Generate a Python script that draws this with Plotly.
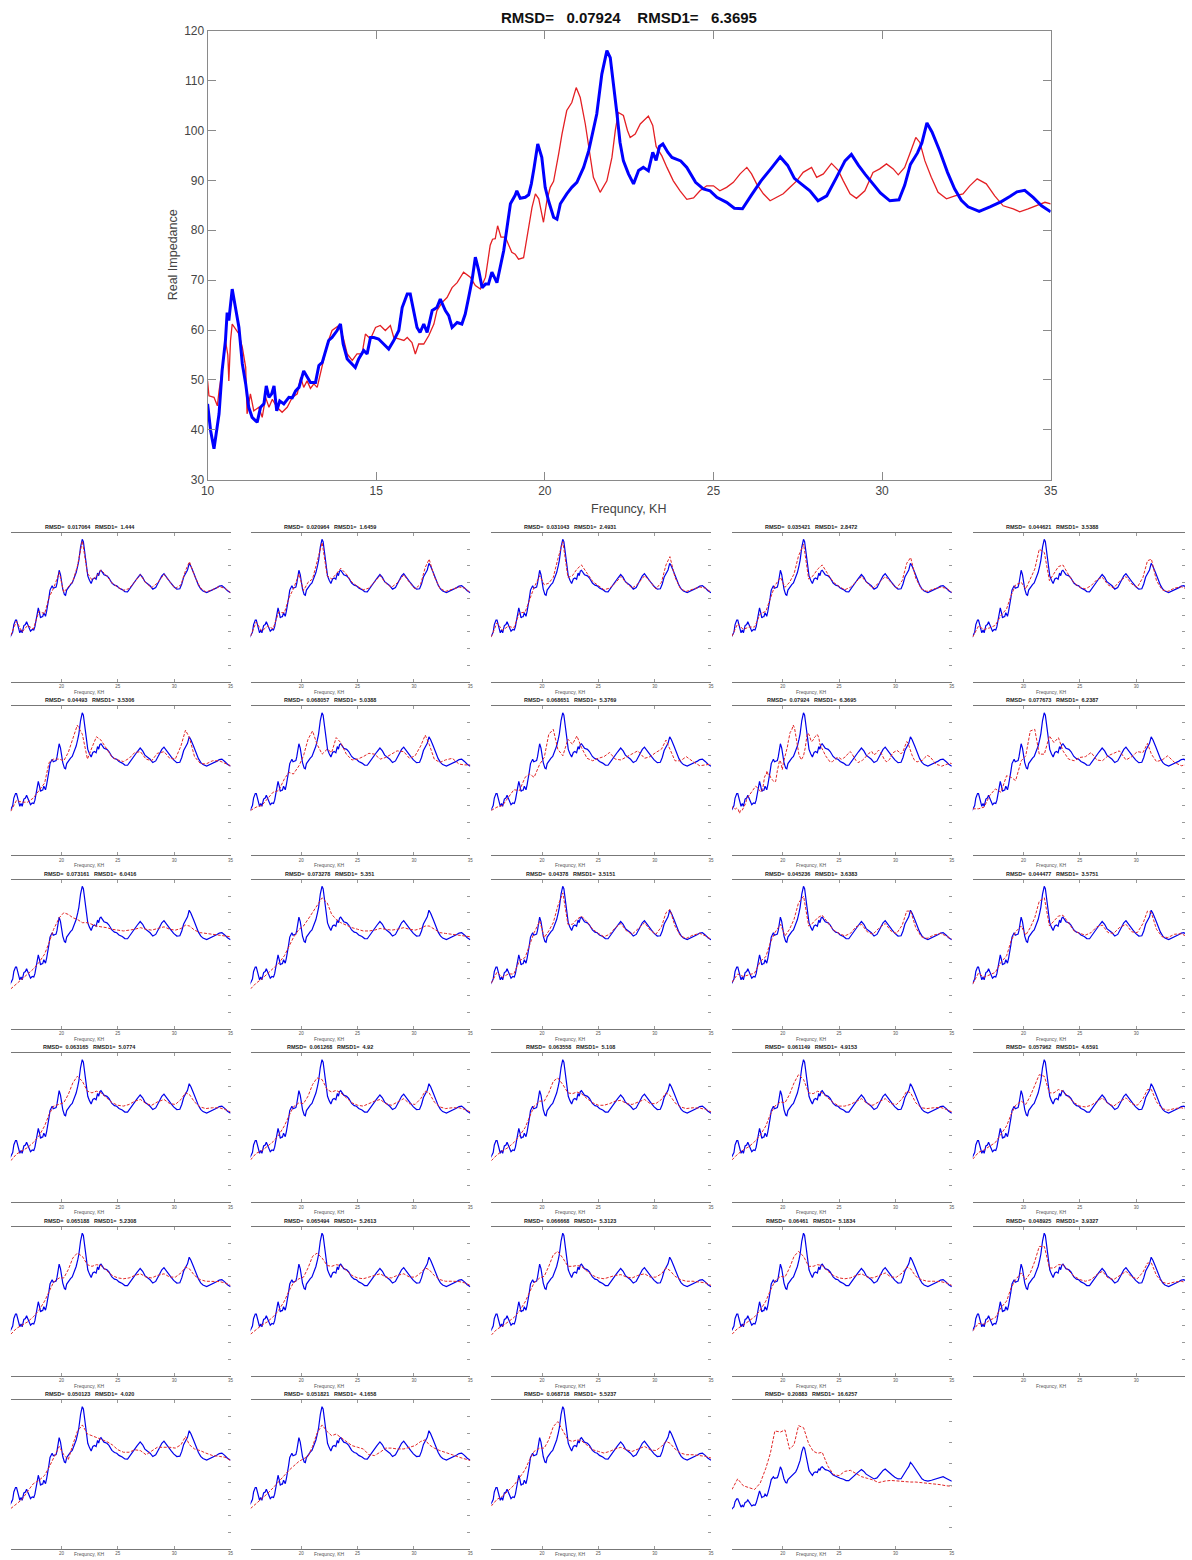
import plotly.graph_objects as go

W, H = 1192, 1560
FONT = "Liberation Sans, Arial, sans-serif"

# ---------------- main chart data (frequency in kHz, real impedance) ----------------
freq_blue = [10.00, 10.09, 10.19, 10.29, 10.34, 10.43, 10.53, 10.58, 10.63, 10.73, 10.83, 10.93, 11.03, 11.13,
             11.22, 11.32, 11.47, 11.57, 11.67, 11.74, 11.82, 11.90, 11.97, 12.05, 12.14, 12.26, 12.41, 12.51,
             12.61, 12.71, 12.85, 12.95, 13.05, 13.20, 13.30, 13.40, 13.50, 13.59, 13.69, 13.84, 13.94, 14.02,
             14.14, 14.29, 14.38, 14.48, 14.63, 14.73, 14.83, 14.93, 15.07, 15.22, 15.37, 15.52, 15.67, 15.77,
             15.92, 16.01, 16.11, 16.21, 16.30, 16.41, 16.51, 16.66, 16.80, 16.90, 17.05, 17.15, 17.25, 17.40,
             17.54, 17.64, 17.74, 17.84, 17.94, 18.04, 18.14, 18.24, 18.33, 18.43, 18.58, 18.68, 18.78, 18.88,
             18.98, 19.12, 19.17, 19.27, 19.42, 19.52, 19.60, 19.68, 19.79, 19.91, 20.01, 20.11, 20.26, 20.36,
             20.46, 20.65, 20.80, 20.95, 21.15, 21.30, 21.44, 21.54, 21.69, 21.84, 21.94, 22.04, 22.14, 22.23,
             22.33, 22.48, 22.63, 22.78, 22.92, 23.07, 23.20, 23.30, 23.40, 23.50, 23.65, 23.77, 24.03, 24.21,
             24.47, 24.70, 24.90, 25.10, 25.39, 25.62, 25.86, 26.12, 26.40, 26.70, 26.98, 27.20, 27.40, 27.62,
             27.86, 28.10, 28.36, 28.65, 28.90, 29.09, 29.30, 29.50, 29.70, 29.95, 30.23, 30.50, 30.67, 30.84,
             31.05, 31.18, 31.33, 31.48, 31.71, 31.94, 32.15, 32.35, 32.55, 32.88, 33.20, 33.55, 33.80, 34.00,
             34.23, 34.48, 34.73, 35.00]
blue_main = [45.2, 39.8, 36.2, 40.5, 43.2, 51.8, 57.9, 63.5, 61.9, 68.2, 63.9, 60.5, 53.2, 49.2,
             44.5, 42.5, 41.5, 44.5, 45.2, 48.8, 46.5, 47.2, 48.8, 43.8, 45.8, 45.2, 46.5, 46.4,
             47.8, 48.5, 51.8, 50.5, 49.5, 49.5, 52.9, 53.5, 55.9, 57.9, 58.5, 59.9, 61.2, 57.2,
             54.2, 53.2, 52.5, 54.2, 55.9, 55.2, 58.5, 58.5, 58.2, 57.2, 56.2, 57.9, 59.9, 64.5,
             67.2, 67.2, 63.9, 60.5, 59.5, 61.2, 59.5, 63.9, 64.5, 66.2, 63.9, 62.9, 60.5, 61.5,
             61.2, 63.2, 66.5, 69.9, 74.6, 71.9, 68.5, 69.2, 69.2, 71.6, 69.5, 72.6, 75.9, 80.6,
             85.3, 87.0, 87.9, 86.4, 86.6, 87.1, 89.3, 92.5, 97.3, 94.6, 88.6, 85.9, 82.6, 82.2,
             85.3, 87.3, 88.6, 89.6, 92.6, 95.9, 99.9, 103.3, 111.3, 116.0, 114.6, 109.3, 103.3, 97.6,
             93.9, 91.3, 89.3, 92.0, 92.6, 91.9, 95.6, 94.0, 96.8, 97.3, 95.6, 94.6, 93.9, 92.6,
             89.6, 88.3, 87.9, 86.6, 85.6, 84.4, 84.3, 87.0, 89.8, 92.3, 94.7, 93.0, 90.4, 89.2,
             87.9, 85.9, 86.9, 90.6, 93.9, 95.2, 93.0, 91.2, 89.6, 87.5, 85.9, 86.1, 89.0, 93.2,
             95.5, 97.5, 101.5, 99.7, 95.9, 91.6, 88.3, 86.0, 84.7, 83.8, 84.7, 85.8, 86.8, 87.7,
             88.0, 86.6, 84.9, 83.7]

freq_red = [10.00, 10.04, 10.19, 10.29, 10.34, 10.43, 10.53, 10.60, 10.63, 10.68, 10.73, 10.83, 10.93, 11.03,
            11.13, 11.17, 11.27, 11.37, 11.52, 11.62, 11.72, 11.82, 11.92, 12.06, 12.21, 12.36, 12.51, 12.66,
            12.76, 12.85, 12.95, 13.05, 13.15, 13.25, 13.40, 13.55, 13.69, 13.79, 13.89, 14.02, 14.14, 14.29,
            14.43, 14.58, 14.68, 14.83, 14.98, 15.12, 15.27, 15.42, 15.52, 15.67, 15.82, 15.92, 16.06, 16.16,
            16.26, 16.41, 16.56, 16.71, 16.80, 16.95, 17.10, 17.25, 17.40, 17.59, 17.79, 17.94, 18.09, 18.24,
            18.38, 18.45, 18.53, 18.60, 18.70, 18.83, 18.95, 19.02, 19.12, 19.22, 19.37, 19.52, 19.62, 19.72,
            19.82, 19.96, 20.06, 20.16, 20.26, 20.41, 20.51, 20.65, 20.80, 20.93, 21.05, 21.20, 21.30, 21.44,
            21.64, 21.84, 21.99, 22.09, 22.18, 22.33, 22.45, 22.53, 22.68, 22.83, 23.07, 23.20, 23.30, 23.47,
            23.62, 23.81, 24.01, 24.21, 24.41, 24.60, 24.80, 25.00, 25.19, 25.39, 25.59, 25.79, 25.99, 26.13,
            26.28, 26.48, 26.68, 26.88, 27.07, 27.27, 27.47, 27.66, 27.91, 28.06, 28.26, 28.50, 28.70, 28.85,
            29.05, 29.24, 29.49, 29.73, 29.93, 30.13, 30.33, 30.48, 30.67, 30.82, 31.00, 31.12, 31.27, 31.46,
            31.66, 31.91, 32.16, 32.40, 32.60, 32.82, 33.09, 33.34, 33.59, 33.89, 34.08, 34.33, 34.58, 34.83,
            35.00]
red_main = [49.8, 46.8, 46.5, 44.8, 47.8, 51.8, 57.9, 55.0, 49.8, 57.9, 61.2, 60.2, 59.2, 56.5,
            52.5, 43.2, 47.2, 43.8, 44.5, 42.5, 46.5, 44.5, 46.1, 44.5, 43.5, 44.5, 46.5, 47.2,
            50.5, 48.5, 49.8, 48.3, 49.2, 48.5, 53.2, 57.2, 59.9, 60.5, 60.9, 58.5, 55.2, 53.9,
            55.2, 55.2, 59.2, 58.2, 60.5, 60.9, 59.9, 60.9, 58.5, 58.2, 57.9, 58.5, 57.5, 55.2,
            57.2, 57.2, 58.9, 61.2, 63.9, 65.5, 66.5, 68.5, 69.5, 71.6, 70.6, 68.9, 68.2, 70.6,
            77.0, 78.2, 78.3, 80.9, 78.6, 78.6, 76.5, 75.6, 75.2, 74.2, 74.5, 81.0, 84.6, 87.3,
            86.3, 81.6, 85.9, 88.6, 89.8, 95.3, 99.3, 104.0, 105.6, 108.6, 106.6, 101.3, 96.6, 90.6,
            87.6, 89.9, 94.6, 100.0, 103.6, 103.0, 100.0, 98.6, 99.3, 101.3, 102.9, 101.0, 96.8, 94.9,
            92.6, 89.9, 87.9, 86.2, 86.5, 87.9, 88.9, 88.9, 87.9, 88.6, 89.6, 91.3, 92.6, 91.3,
            89.3, 87.3, 85.9, 86.6, 87.3, 88.6, 89.9, 91.6, 92.6, 90.6, 91.3, 93.4, 92.0, 89.9,
            87.3, 86.4, 87.9, 91.6, 92.3, 93.3, 92.3, 91.1, 92.6, 95.3, 98.6, 97.6, 93.9, 90.6,
            87.6, 86.3, 86.9, 87.3, 88.9, 90.3, 89.3, 86.9, 84.9, 84.3, 83.7, 84.3, 84.9, 85.6,
            85.3]

# ---------------- small panels: simulated curves on a common frequency grid ----------------
F_S = [15.5, 16.0, 16.5, 17.0, 17.5, 18.0, 18.5, 18.9, 19.3, 19.8, 20.2, 20.6, 21.0, 21.4, 21.85,
       22.3, 22.7, 23.1, 23.5, 24.0, 24.5, 25.0, 25.5, 26.0, 26.5, 27.0, 27.5, 28.0, 28.5, 29.1,
       29.6, 30.1, 30.6, 31.0, 31.35, 31.8, 32.3, 32.8, 33.4, 34.0, 34.5, 35.0]

red_p01 = [58, 66.5, 60, 64, 61.8, 72.5, 71, 81, 86.5, 96, 84, 87.5, 90.5, 99.5, 115, 95.5, 91.5, 93.5, 97.5, 94, 89.5,
           87, 85.2, 86.2, 90.5, 94.5, 89.5, 86.8, 89.5, 94.8, 90.3, 86.3, 88.5, 97, 102.5, 94, 86.8, 84.2, 85.5, 87.5, 86.3, 83.8]
red_p02 = [57.5, 66, 60.5, 63.5, 62, 72, 71.5, 80.5, 86, 95, 85, 90, 92, 103, 114, 94, 92, 95, 98.5, 95, 90,
           87.5, 85.5, 86.5, 90, 94, 89.5, 87, 89.5, 94.5, 90, 86, 89, 99, 104, 93.5, 86.5, 84.5, 85.8, 87.2, 86.5, 83.8]
red_p03 = [57, 65.5, 61, 63.5, 62.5, 71.5, 72, 80, 87, 94, 88.5, 89.5, 93, 104, 114.5, 93, 94, 98, 100.5, 95.5, 90.5,
           88, 85.5, 86.5, 89.5, 93.5, 89.5, 86.5, 89, 94, 90.5, 86, 90, 100.5, 105.5, 93, 86, 84.5, 86, 87.2, 86.5, 84]
red_p04 = [57.5, 65, 61.5, 63, 63, 71, 72.5, 80, 88, 93, 87, 90, 95, 106, 113, 92, 94, 98, 100.5, 95, 90,
           87.5, 85.5, 87, 90, 93.5, 89.5, 86.5, 89.5, 93.5, 90, 86.5, 91, 101.5, 105, 92.5, 86, 84.5, 86, 87, 86.5, 84]
red_p05 = [57, 63.5, 61.5, 62.5, 64, 70, 74, 82, 88.5, 90, 86, 92, 98, 110, 108, 91, 95, 99.5, 100.5, 94.5, 89.5,
           87, 86, 88, 91.5, 93, 88.5, 86.5, 90.5, 93.5, 89, 87, 93, 103, 104, 91, 85.5, 84.5, 86.5, 87.3, 86, 84]
red_p06 = [56.5, 63, 62, 62, 64.5, 69, 73.5, 86, 88, 88, 87, 92, 101, 108.5, 103, 88, 95, 101.5, 99.5, 94, 89,
           87.5, 86.5, 88.5, 92, 92.5, 88, 87, 91.5, 92.5, 88.5, 88, 96, 105.5, 101, 89.5, 85.5, 85, 87, 87, 85.5, 84]
red_p07 = [57, 59, 60, 64, 68, 69, 76, 80, 79, 84, 90, 100, 105, 97, 91, 94, 92, 101, 98, 91, 87.5,
           88, 89.5, 91.5, 91, 88, 89, 91, 93, 92.5, 88.5, 90, 96, 102.5, 97, 88, 86, 87.5, 88.5, 85, 84.5, 84.5]
red_p08 = [57, 59, 60, 65, 69.5, 69, 77, 79, 77, 85, 89, 103, 106, 94, 90, 100, 97, 102, 95, 88.5, 87,
           88.5, 89.5, 92, 88, 87.5, 89.5, 91.5, 93, 88.5, 89.5, 92, 94, 99.5, 94, 87, 87, 89.5, 86.5, 84, 84.5, 85]
red_p10 = [58, 58, 59, 66, 70, 68, 78, 77, 75, 87, 90, 105, 106, 91, 91, 102, 98, 101, 93, 88, 87,
           89, 89.5, 92, 87.5, 87, 90, 91.5, 93, 87.5, 89.5, 92.5, 92, 97.5, 91, 86.5, 87.5, 90, 86, 84, 84.5, 85.5]
red_p11 = [54, 57, 60, 63, 66, 70, 75, 82, 90, 97, 100, 99, 97, 96, 94, 94, 93, 92, 91.5, 91, 90,
           89.5, 89, 89.5, 90, 91, 90, 89.5, 90.5, 91.5, 90, 89.5, 90.5, 92.5, 92, 89.5, 88, 87.5, 87, 86.5, 86, 85.5]
red_p12 = [54, 57.5, 60, 63, 66, 69.5, 74, 80, 85, 90, 92, 96, 100, 104, 109, 106, 99, 96, 94, 92.5, 91,
           90, 89, 89, 89.5, 90.5, 90, 89.5, 90, 91, 90, 89.5, 90.5, 92, 92, 90, 88, 87.5, 87, 86.5, 86, 85.5]
red_p13 = [57.5, 64, 61, 63, 63, 71, 73, 81, 88, 95, 85, 89, 94, 104, 112, 93, 93, 96, 98, 94.5, 90,
           87.5, 85.5, 87, 91, 93.5, 89, 87, 90, 94, 89.5, 87, 91.5, 100, 102, 92, 86, 84.5, 86.5, 87.5, 86, 84]
red_p14 = [58, 63, 61.5, 62.5, 63.5, 70.5, 73.5, 82, 88, 93, 86, 90, 96, 106, 110, 92, 94, 97, 98.5, 94, 89.5,
           87.5, 86, 87.5, 91.5, 93, 88.5, 87, 90.5, 93.5, 89, 87.5, 92.5, 101, 101, 91, 85.5, 84.5, 86.5, 87.5, 86, 84]
red_p15 = [57, 63.5, 61, 62.5, 64, 70, 74, 83, 88.5, 92, 86.5, 91, 97, 107, 109, 92, 95, 98, 98.5, 93.5, 89,
           87.5, 86.5, 88, 91.5, 92.5, 88, 87.5, 91, 93, 88.5, 88, 93.5, 101, 100, 90, 85.5, 85, 87, 87.3, 85.8, 84]
red_p16 = [55, 59, 61, 63, 66, 70, 76, 83, 88, 89, 90, 95, 102, 106, 103, 97, 96, 97, 96, 93, 90,
           88.5, 88, 89, 91, 92, 89.5, 88.5, 90.5, 92, 89.5, 89, 92, 96, 95, 90.5, 87.5, 86.5, 87, 87, 86, 84.5]
red_p17 = [55.5, 59.5, 61, 63.5, 66.5, 70.5, 76, 82, 87.5, 90, 89.5, 94, 101, 105, 104, 98, 96.5, 97.5, 96, 93, 90,
           88.5, 88, 89.5, 91, 92, 89.5, 88.5, 90.5, 92.5, 89.5, 89, 92.5, 97, 96, 90.5, 87.5, 86.5, 87, 87, 86, 84.5]
red_p18 = [55, 58.5, 61, 63, 66, 70, 75, 82, 88, 91, 91, 96, 103, 105, 101, 96, 95.5, 96.5, 95.5, 92.5, 90,
           88.5, 88.5, 89.5, 91, 91.5, 89.5, 89, 90.5, 92, 89.5, 89.5, 92, 96, 94.5, 90, 87.5, 86.5, 87, 86.8, 86, 84.5]
red_p19 = [55.5, 59, 61.5, 63.5, 66.5, 70.5, 76, 83, 88, 90.5, 90, 95, 102, 107, 104, 96, 95.5, 97, 96, 93, 90,
           88, 88, 89, 91, 92.5, 89.5, 88.5, 90.5, 92.5, 89.5, 89, 92.5, 97, 96, 90, 87, 86.5, 87, 87.2, 86, 84.5]
red_p20 = [56, 60, 61.5, 63.5, 66, 71, 76, 83, 88.5, 91, 89, 94, 101, 107, 106, 96, 96, 98, 97, 93.5, 90,
           88, 87.5, 88.5, 91, 93, 89.5, 88, 90.5, 93, 89.5, 88.5, 92.5, 98, 98, 90.5, 86.5, 85.5, 86.5, 87, 86, 84]
red_p21 = [55, 58.5, 60.5, 62.5, 65.5, 69.5, 75, 81, 86.5, 89, 89, 94, 101, 104, 102, 97, 96, 97, 96.5, 93.5, 90.5,
           89, 88.5, 89, 90.5, 91.5, 89.5, 89, 90.5, 91.5, 89.5, 89.5, 92, 95.5, 94.5, 90.5, 88, 87, 87, 86.8, 86, 84.5]
red_p22 = [55, 58, 60.5, 62.5, 65.5, 69.5, 75, 81, 86, 88.5, 89.5, 95, 102, 104, 101, 96.5, 96, 97, 96.5, 93.5, 90.5,
           89, 88.5, 89.5, 90.5, 91.5, 89.5, 89, 90.5, 91.5, 89.5, 89.5, 92, 95, 94, 90.5, 88, 87, 87, 86.8, 86, 84.5]
red_p23 = [54.5, 58, 60, 62.5, 65, 69, 74.5, 80.5, 86, 89, 90, 96, 103, 105, 101, 96, 96, 96.5, 96, 93, 90.5,
           89, 88.5, 89.5, 90.5, 91, 89.5, 89, 90.5, 91.5, 89.5, 89.5, 91.5, 95, 93.5, 90, 88, 87, 87, 86.5, 86, 84.5]
red_p24 = [55, 58.5, 60.5, 63, 65.5, 69.5, 75, 81.5, 87, 90, 89.5, 95, 102, 105, 102, 96, 96, 97, 96.5, 93, 90.5,
           89, 88.5, 89, 90.5, 91.5, 89.5, 89, 90.5, 92, 89.5, 89.5, 92, 95.5, 94.5, 90, 88, 87, 87, 86.8, 86, 84.5]
red_p25 = [57, 61.5, 61, 63.5, 65, 71, 75, 83, 88, 92, 88, 92, 99, 108, 108, 95, 95, 97, 97, 93.5, 90,
           88, 87, 88, 91, 93, 89, 88, 90.5, 93, 89.5, 88.5, 92.5, 98, 98, 90.5, 86.5, 85.5, 86.5, 87, 86, 84]
red_p26 = [54.5, 57, 60, 65, 69.5, 71.5, 74.5, 79.5, 85, 92, 87, 84, 93, 101, 105, 99.5, 98.5, 97.5, 96.7, 95, 93,
           90, 88.5, 88.5, 90, 89.5, 87, 89, 91.5, 91.5, 91.5, 91, 93, 98, 93, 90.5, 89.5, 88, 86.5, 86, 85.5, 83.5]
red_p27 = [54.5, 57.5, 60, 63.5, 67, 71, 74.5, 77.5, 80, 83, 84.5, 86, 92, 100, 105, 101, 98.5, 99.5, 97.5, 95, 92.5,
           91.5, 90.5, 87, 86.5, 88.5, 91, 91, 90.5, 90.5, 91.5, 92.5, 95, 96, 93, 91, 89.5, 88.5, 87, 85.5, 84.5, 83.5]
red_p28 = [56, 60, 62, 65, 68.5, 73, 78, 84, 89, 91, 91, 96, 104, 107, 101, 96, 95, 96, 95.5, 93, 90,
           89, 88, 89, 90.5, 91.5, 90, 89, 90.5, 92, 90, 89.5, 92, 95, 94, 90.5, 88, 87, 87, 86.5, 86, 85]
red_p29 = [76, 86, 79.5, 78, 76, 82, 96, 110, 131, 130, 132, 114, 118, 136, 134, 119, 112, 110, 111, 98, 90,
           89, 93, 94, 91, 88, 86.5, 85, 82.5, 84, 84.5, 84, 83.5, 83, 83, 83, 82.5, 82, 81, 80.5, 79.5, 79]

rmsd_vals = ["0.017064", "0.020964", "0.031043", "0.035421", "0.044621",
             "0.04493", "0.068057", "0.068651", "0.07924", "0.077673",
             "0.073161", "0.073278", "0.04378", "0.045236", "0.044477",
             "0.063165", "0.061268", "0.063558", "0.061149", "0.057962",
             "0.065188", "0.065494", "0.066668", "0.06461", "0.048925",
             "0.050123", "0.051821", "0.068718", "0.20883"]
rmsd1_vals = ["1.444", "1.6459", "2.4931", "2.8472", "3.5388",
              "3.5306", "5.0388", "5.3769", "6.3695", "6.2387",
              "6.0416", "5.351", "3.5151", "3.6383", "3.5751",
              "5.0774", "4.92", "5.108", "4.9153", "4.6591",
              "5.2308", "5.2613", "5.3123", "5.1834", "3.9327",
              "4.020", "4.1658", "5.5237", "16.6257"]

main_rmsd, main_rmsd1 = "0.07924", "6.3695"
x_ticks_main = [10, 15, 20, 25, 30, 35]
y_ticks_main = [30, 40, 50, 60, 70, 80, 90, 100, 110, 120]
x_ticks_small = [20, 25, 30, 35]
y_ticks_small = [40, 50, 60, 70, 80, 90, 100, 110]
y_ticks_wide = [40, 60, 80, 100, 120, 140]

red_small = [red_p01, red_p02, red_p03, red_p04, red_p05, red_p06, red_p07, red_p08, None, red_p10,
             red_p11, red_p12, red_p13, red_p14, red_p15, red_p16, red_p17, red_p18, red_p19, red_p20,
             red_p21, red_p22, red_p23, red_p24, red_p25, red_p26, red_p27, red_p28, red_p29]

# ---------------- layout helpers (target pixel -> figure pixel, compensating the capture) ----------------
SX, OX = 0.9893, 6.2
SY, OY = 0.9911, 6.3

def px(X):
    return (X - OX) / SX

def py(Y):
    return (Y - OY) / SY

def xd(X0, X1):
    return [max(0.0, px(X0) / W), min(1.0, px(X1) / W)]

def yd(Y0, Y1):
    return [max(0.0, 1 - py(Y1) / H), min(1.0, 1 - py(Y0) / H)]

def ax(X):
    return px(X) / W

def ay(Y):
    return 1 - py(Y) / H

NB = "\u00a0"
fig = go.Figure()
layout = dict(width=W, height=H, margin=dict(l=0, r=0, t=0, b=0),
              paper_bgcolor="white", plot_bgcolor="white", showlegend=False,
              font=dict(family=FONT))
annotations = []

# main chart
MX0, MX1, MY0, MY1 = 207, 1051, 30, 479
fig.add_trace(go.Scatter(x=freq_red, y=red_main, mode="lines", line=dict(color="rgb(228,32,36)", width=1.3),
                         xaxis="x", yaxis="y", hoverinfo="skip"))
fig.add_trace(go.Scatter(x=freq_blue, y=blue_main, mode="lines", line=dict(color="rgb(0,0,255)", width=3),
                         xaxis="x", yaxis="y", hoverinfo="skip"))
layout["xaxis"] = dict(domain=xd(MX0, MX1), range=[10, 35], tickvals=x_ticks_main, ticks="inside", ticklen=8,
                       showline=True, mirror="ticks", linecolor="#8a8a8a", tickcolor="#8a8a8a", showgrid=False,
                       zeroline=False, tickfont=dict(size=12, color="#444", family=FONT), anchor="y")
layout["yaxis"] = dict(domain=yd(MY0, MY1), range=[30, 120], tickvals=y_ticks_main, ticks="inside", ticklen=8,
                       showline=True, mirror="ticks", linecolor="#8a8a8a", tickcolor="#8a8a8a", showgrid=False,
                       zeroline=False, tickfont=dict(size=12, color="#444", family=FONT), anchor="x")
annotations.append(dict(x=ax(629), y=ay(17), xref="paper", yref="paper", showarrow=False,
                        text="<b>RMSD=" + NB * 3 + main_rmsd + NB * 4 + "RMSD1=" + NB * 3 + main_rmsd1 + "</b>",
                        font=dict(size=15, color="#111", family=FONT), xanchor="center", yanchor="middle"))
annotations.append(dict(x=ax(629), y=ay(508), xref="paper", yref="paper", showarrow=False,
                        text="Frequncy, KH", font=dict(size=12.5, color="#444", family=FONT),
                        xanchor="center", yanchor="middle"))
annotations.append(dict(x=ax(172), y=ay(254), xref="paper", yref="paper", showarrow=False,
                        text="Real Impedance", textangle=-90, font=dict(size=12.5, color="#444", family=FONT),
                        xanchor="center", yanchor="middle"))

# small panels
col_x = [10, 250, 491, 732, 973]
row_y = [532, 705.5, 879, 1052.5, 1226, 1399.5]
PW, PH = 220, 149
XR0, XR1 = 15.5, 35.0
for i in range(29):
    r, c = divmod(i, 5)
    n = i + 2
    xa, ya = "x%d" % n, "y%d" % n
    X0 = col_x[c]
    Y0 = row_y[r]
    X1 = X0 + PW
    dom = xd(X0, X1)
    # keep the data scale when the panel runs past the page edge
    vis = (dom[1] * W - px(X0)) / (px(X1) - px(X0))
    xr1 = XR0 + vis * (XR1 - XR0)
    fig.add_trace(go.Scatter(x=freq_blue, y=blue_main, mode="lines", line=dict(color="rgb(0,0,235)", width=1.2),
                             xaxis=xa, yaxis=ya, hoverinfo="skip"))
    if red_small[i] is None:
        rx, ry = freq_red, red_main
    else:
        rx, ry = F_S, red_small[i]
    fig.add_trace(go.Scatter(x=rx, y=ry, mode="lines",
                             line=dict(color="rgb(225,40,40)", width=1.0, dash="3px,1.6px"),
                             xaxis=xa, yaxis=ya, hoverinfo="skip"))
    wide = (i == 28)
    layout["xaxis%d" % n] = dict(domain=dom, range=[XR0, xr1], tickvals=x_ticks_small,
                                 ticks="inside", ticklen=3, showline=True, mirror="ticks",
                                 linecolor="#777", tickcolor="#999", linewidth=1, showgrid=False,
                                 zeroline=False, tickfont=dict(size=4.5, color="#555", family=FONT),
                                 anchor=ya)
    layout["yaxis%d" % n] = dict(domain=yd(Y0, Y0 + PH), range=[20, 160] if wide else [30, 120],
                                 tickvals=y_ticks_wide if wide else y_ticks_small,
                                 side="right", ticks="inside", ticklen=3, tickcolor="#999",
                                 showline=False, showticklabels=False, showgrid=False, zeroline=False,
                                 anchor=xa)
    cxp = X0 + 0.36 * PW
    annotations.append(dict(x=ax(cxp), y=ay(Y0 - 1), xref="paper", yref="paper", showarrow=False,
                            text="<b>RMSD=" + NB * 2 + rmsd_vals[i] + NB * 3 + "RMSD1=" + NB * 2 + rmsd1_vals[i] + "</b>",
                            font=dict(size=5.5, color="#222", family=FONT), xanchor="center", yanchor="bottom"))
    lab_y = min(Y0 + PH + 10, 1553.5)
    annotations.append(dict(x=ax(cxp), y=ay(lab_y), xref="paper", yref="paper", showarrow=False,
                            text="Frequncy, KH", font=dict(size=5, color="#555", family=FONT),
                            xanchor="center", yanchor="middle"))

layout["annotations"] = annotations
fig.update_layout(**layout)
fig.write_html("out.html", config={"displayModeBar": False},
               post_script="document.body.style.margin='0';document.documentElement.style.overflow='hidden';")
